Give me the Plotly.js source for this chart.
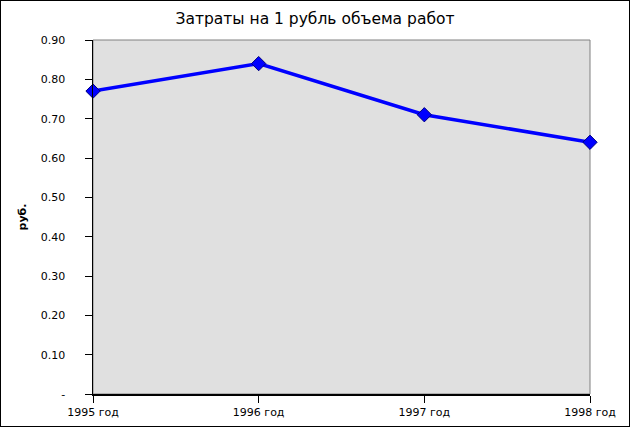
<!DOCTYPE html>
<html><head><meta charset="utf-8">
<script src="https://cdn.plot.ly/plotly-3.0.1.min.js"></script>
<style>
html,body{margin:0;padding:0;background:#fff;}
#wrap{width:628px;height:425px;border:1px solid #000;}
#chart{width:628px;height:425px;}
</style>
</head><body>
<div id="wrap"><div id="chart"></div></div>
<script>
const categories = ["1995 год", "1996 год", "1997 год", "1998 год"];
const values = [0.77, 0.84, 0.71, 0.64];
const yTickVals = [0, 0.1, 0.2, 0.3, 0.4, 0.5, 0.6, 0.7, 0.8, 0.9];
const yTickText = ["-", "0.10", "0.20", "0.30", "0.40", "0.50", "0.60", "0.70", "0.80", "0.90"];
const titleText = "Затраты на 1 рубль объема работ";
const yTitle = "руб.";

const font = "DejaVu Sans, Verdana, sans-serif";
const trace = {
  x: categories, y: values, type: "scatter", mode: "lines+markers",
  line: {color: "#0000ff", width: 3.5},
  marker: {symbol: "diamond", size: 11, color: "#0000ff", line: {color: "#000080", width: 1}},
  cliponaxis: false,
  hoverinfo: "none"
};
const layout = {
  width: 628, height: 425,
  margin: {l: 92, r: 39, t: 39, b: 32},
  paper_bgcolor: "#ffffff",
  plot_bgcolor: "#e0e0e0",
  showlegend: false,
  title: {text: titleText, font: {family: font, size: 15.5, color: "#000"}, x: 0.5, xanchor: "center", y: 0.958, yanchor: "middle"},
  xaxis: {
    type: "category", range: [0, 3], showgrid: false, zeroline: false,
    showline: true, linecolor: "#000", linewidth: 1.5,
    ticks: "outside", ticklen: 7, tickcolor: "#000", tickwidth: 1,
    tickfont: {family: font, size: 11, color: "#000"}
  },
  yaxis: {
    range: [0, 0.9], tickvals: yTickVals, ticktext: yTickText,
    showgrid: false, zeroline: false,
    showline: true, linecolor: "#000", linewidth: 1.5,
    ticks: "outside", ticklen: 7, tickcolor: "#000", tickwidth: 1,
    ticklabelstandoff: 17,
    tickfont: {family: font, size: 11, color: "#000"},
    title: {text: yTitle, font: {family: font, size: 11, color: "#000", weight: "bold"}, standoff: 12}
  },
  shapes: [{type: "rect", xref: "paper", yref: "paper", x0: 0, x1: 1, y0: 0, y1: 1,
            line: {color: "#808080", width: 1}, layer: "below"}]
};
Plotly.newPlot("chart", [trace], layout, {displayModeBar: false, staticPlot: true});
</script>
</body></html>
